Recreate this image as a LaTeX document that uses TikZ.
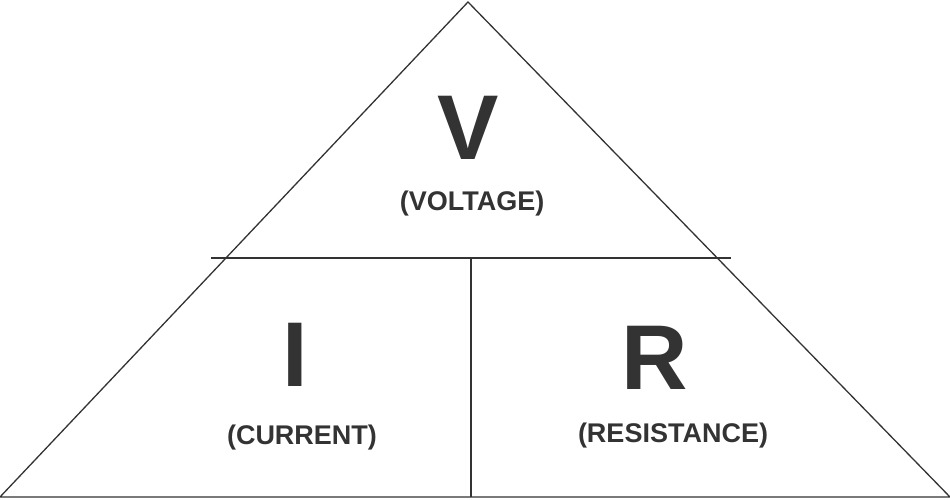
\documentclass[tikz,border=0pt]{standalone}
\usepackage{fontspec}
\setmainfont{Liberation Sans}
\begin{document}
\begin{tikzpicture}[x=1pt,y=-1pt,line width=1.3pt,color=black!80,
  big/.style={font=\fontsize{92}{92}\selectfont\bfseries,text=black!80},
  small/.style={font=\fontsize{27}{27}\selectfont\bfseries,text=black!80}]
\useasboundingbox (0,0) rectangle (950,500);
\coordinate (L) at (0,497);
\coordinate (T) at (468,2);
\coordinate (Rt) at (950,497);
\coordinate (ML) at (211,258);
\coordinate (MR) at (731,258);
\coordinate (VT) at (471,258);
\coordinate (VB) at (471,497);
\draw (L) -- (T) -- (Rt) -- cycle;
\draw (ML) -- (MR);
\draw (VT) -- (VB);
\node[big] (v) at (468,128) {V};
\node[small] (vl) at (472,204) {(VOLTAGE)};
\node[big] (i) at (295,355) {I};
\node[small] (il) at (302,438) {(CURRENT)};
\node[big] (r) at (655,358) {R};
\node[small] (rl) at (673,436) {(RESISTANCE)};
\end{tikzpicture}
\end{document}
